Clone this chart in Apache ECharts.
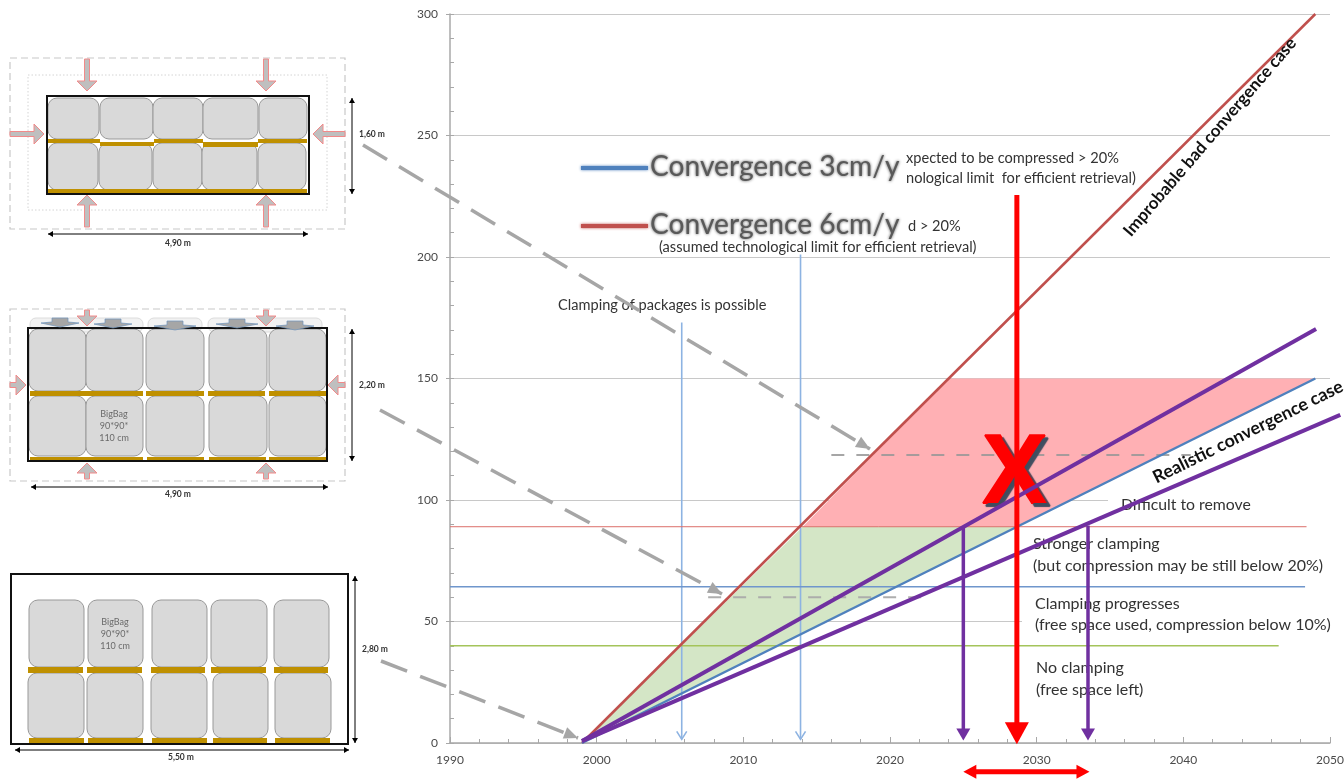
<!DOCTYPE html>
<html>
<head>
<meta charset="utf-8">
<style>html,body{margin:0;padding:0;background:#fff}#c{width:1344px;height:781px}</style>
<script src="https://cdn.jsdelivr.net/npm/echarts@6/dist/echarts.min.js"></script>
</head>
<body>
<div id="c"></div>
<script>
// ---- chart values, in axis units (year, cm) ----
const xTicks = [1990, 2000, 2010, 2020, 2030, 2040, 2050];
const yTicks = [0, 50, 100, 150, 200, 250, 300];
const conv6Years = [1999, 2049];
const conv6Values = [0, 300];
const conv3Years = [1999, 2049];
const conv3Values = [0, 150];
const purpleHighYears = [1999, 2049.05];
const purpleHighValues = [0.8, 170.4];
const purpleLowYears = [1999, 2050.7];
const purpleLowValues = [0.8, 135];
const redLimitYears = [1990, 2048.4];
const redLimitValues = [89, 89];
const blueLimitYears = [1990, 2048.3];
const blueLimitValues = [64.3, 64.3];
const greenLimitYears = [1990, 2046.5];
const greenLimitValues = [40, 40];
const dashUpperYears = [2016, 2040.5];
const dashUpperValues = [118.5, 118.5];
const dashLowerYears = [2007.6, 2022.9];
const dashLowerValues = [60, 60];
const pinkZoneYears = [2014.05, 2024, 2049, 2028.7];
const pinkZoneValues = [89, 150, 150, 89];
const greenZoneYears = [1999, 2014.05, 2028.7];
const greenZoneValues = [0, 89, 89];
const thinBlueArrowYears = [2005.8, 2013.9];
const thinBlueArrowTops = [173, 201];
const thinBlueArrowEnd = 1.5;
const purpleArrowYears = [2025, 2033.5];
const purpleArrowTops = [89, 89.5];
const purpleArrowEnd = 1;
const redArrowYear = 2028.65;
const redArrowTop = 225.5;
const redArrowEnd = -0.5;
const rangeYears = [2025, 2033.6];
const rangeLevel = -11.8;
const legendNames = ['Convergence 3cm/y', 'Convergence 6cm/y'];
const bigBagLabel = ['BigBag', '90*90*', '110 cm'];
const noteClamping = 'Clamping of packages is possible';
const noteRemove = 'Difficult to remove';
const noteStronger = ['Stronger clamping', '(but compression may be still below 20%)'];
const noteProgress = ['Clamping progresses', '(free space used, compression below 10%)'];
const noteNone = ['No clamping', '(free space left)'];
const caseBad = 'Improbable bad convergence case';
const caseReal = 'Realistic convergence case';
const retrievalTop = ['xpected to be compressed > 20%', 'nological limit  for efficient retrieval)'];
const retrievalLow = ['d > 20%', '(assumed technological limit for efficient retrieval)'];

// ---- helpers ----
const FONT = 'Lato, "Open Sans", sans-serif';
const zip = (a, b) => a.map((v, i) => [v, b[i]]);

function lineSeries(name, xs, ys, color, width, z, dash) {
  return {
    type: 'line', name, data: zip(xs, ys), showSymbol: false, symbol: 'none', clip: false, z,
    animation: false, silent: true,
    lineStyle: { color, width, type: dash || 'solid', cap: 'butt' }
  };
}
// a straight run that is allowed to leave the plot area
function overrunSeries(name, xs, ys, color, width, z) {
  return {
    type: 'custom', name, z, clip: false, silent: true, animation: false,
    data: zip(xs, ys),
    renderItem: (p, api) => {
      if (p.dataIndex !== 0) return null;
      return { type: 'polyline', shape: { points: xs.map((x, i) => api.coord([x, ys[i]])) },
        style: { stroke: color, lineWidth: width, fill: null } };
    }
  };
}
function zoneSeries(name, xs, ys, fill) {
  return {
    type: 'custom', name, z: 1, clip: false, silent: true, animation: false,
    data: [0],
    renderItem: (p, api) => ({
      type: 'polygon',
      shape: { points: xs.map((x, i) => api.coord([x, ys[i]])) },
      style: { fill, stroke: null }
    })
  };
}
// vertical arrows in axis units
function vArrowSeries(name, xs, tops, end, color, width, head, z) {
  return {
    type: 'custom', name, z, clip: false, silent: true, animation: false,
    data: xs.map((x, i) => [x, tops[i]]),
    renderItem: (p, api) => {
      const a = api.coord([api.value(0), api.value(1)]);
      const b = api.coord([api.value(0), end]);
      if (head.open) {
        return { type: 'group', children: [
          { type: 'line', shape: { x1: a[0], y1: a[1], x2: b[0], y2: b[1] }, style: { stroke: color, lineWidth: width } },
          { type: 'polyline', shape: { points: [[b[0] - head.w, b[1] - head.l], [b[0], b[1]], [b[0] + head.w, b[1] - head.l]] },
            style: { stroke: color, lineWidth: width, fill: null } }
        ]};
      }
      return { type: 'group', children: [
        { type: 'line', shape: { x1: a[0], y1: a[1], x2: b[0], y2: b[1] - head.l + 1 }, style: { stroke: color, lineWidth: width } },
        { type: 'polygon', shape: { points: [[b[0] - head.w, b[1] - head.l], [b[0] + head.w, b[1] - head.l], [b[0], b[1]]] },
          style: { fill: color } }
      ]};
    }
  };
}
const rangeSeries = {
  type: 'custom', name: 'Range', z: 8, clip: false, silent: true, animation: false, data: [0],
  renderItem: (p, api) => {
    const a = api.coord([rangeYears[0], rangeLevel]);
    const b = api.coord([rangeYears[1], rangeLevel]);
    const y = a[1], hl = 13, hw = 7, sw = 2.5;
    return { type: 'polygon', shape: { points: [
      [a[0], y], [a[0] + hl, y - hw], [a[0] + hl, y - sw], [b[0] - hl, y - sw], [b[0] - hl, y - hw], [b[0], y],
      [b[0] - hl, y + hw], [b[0] - hl, y + sw], [a[0] + hl, y + sw], [a[0] + hl, y + hw]
    ] }, style: { fill: '#ff0000' } };
  }
};

// ---- page-space drawings ----
const g = [];
const Z_BOX = 1;
function txt(x, y, text, size, color, opt) {
  g.push(Object.assign({
    type: 'text', x, y, z: (opt && opt.z) || 1,
    style: Object.assign({ text, font: (opt && opt.weight || 'normal') + ' ' + size + 'px ' + FONT, fill: color,
      align: (opt && opt.align) || 'left', verticalAlign: 'middle' }, (opt && opt.style) || {})
  }, (opt && opt.el) || {}));
}
function box(x, y, w, h, style, r, z) {
  g.push({ type: 'rect', z: z || 30, shape: { x, y, width: w, height: h, r: r || 0 }, style });
}
function bag(x1, y1, x2, y2) {
  box(x1, y1, x2 - x1, y2 - y1, { fill: '#d9d9d9', stroke: '#999999', lineWidth: 1 }, 9);
}
function pallet(x1, y1, x2, y2) {
  box(x1, y1, x2 - x1, y2 - y1, { fill: '#bf9000' });
}
function pressArrow(tipX, tipY, tailX, tailY) {
  const dx = tipX - tailX, dy = tipY - tailY, L = Math.hypot(dx, dy), ux = dx / L, uy = dy / L, nx = -uy, ny = ux;
  const hl = 10, hw = 10, sw = 2.5;
  const P = (a, b) => [tailX + ux * a + nx * b, tailY + uy * a + ny * b];
  g.push({ type: 'polygon', z: 31, shape: { points: [P(0, sw), P(L - hl, sw), P(L - hl, hw), P(L, 0), P(L - hl, -hw), P(L - hl, -sw), P(0, -sw)] },
    style: { fill: '#bfbfbf', stroke: '#f28a8a', lineWidth: 1 } });
}
function dim(x1, y1, x2, y2) {
  const dx = x2 - x1, dy = y2 - y1, L = Math.hypot(dx, dy), ux = dx / L, uy = dy / L, nx = -uy, ny = ux, h = 5, w = 3;
  g.push({ type: 'line', z: 30, shape: { x1, y1, x2, y2 }, style: { stroke: '#000', lineWidth: 1 } });
  g.push({ type: 'polygon', z: 31, shape: { points: [[x1, y1], [x1 + ux * h + nx * w, y1 + uy * h + ny * w], [x1 + ux * h - nx * w, y1 + uy * h - ny * w]] }, style: { fill: '#000' } });
  g.push({ type: 'polygon', z: 31, shape: { points: [[x2, y2], [x2 - ux * h + nx * w, y2 - uy * h + ny * w], [x2 - ux * h - nx * w, y2 - uy * h - ny * w]] }, style: { fill: '#000' } });
}
function dimLabel(x, y, t) {
  txt(x, y, t, 8.5, '#333', { weight: 'bold', align: 'center', z: 32 });
}
function bagLabel(x, ys) {
  bigBagLabel.forEach((t, i) => txt(x, ys[i], t, 9, '#6a6a6a', { align: 'center', z: 32 }));
}

// diagram 1
box(10, 58, 335, 171, { fill: null, stroke: '#c8c8c8', lineWidth: 1.2, lineDash: [7, 4] });
box(28, 75, 299, 135, { fill: null, stroke: '#d4d4d4', lineWidth: 1, lineDash: [1.5, 2] });
[[48, 99], [100, 153], [153, 203], [203, 258], [259, 307]].forEach(r => bag(r[0], 98, r[1], 139));
[[48, 98], [99, 152], [153, 202], [202, 257], [258, 306]].forEach(r => bag(r[0], 143, r[1], 190));
[[48, 100, 139, 143], [100, 154, 142, 146], [154, 203, 139, 143], [203, 258, 142, 147], [258, 307, 139, 143]]
  .forEach(r => pallet(r[0], r[2], r[1], r[3]));
pallet(48, 189, 307, 193);
box(47, 96, 262, 98, { fill: null, stroke: '#111', lineWidth: 2 });
[87, 266].forEach(x => { pressArrow(x, 91, x, 59); pressArrow(x, 195, x, 227); });
pressArrow(44, 134, 10, 134); pressArrow(313, 134, 345, 134);
dim(352, 98, 352, 194); dimLabel(372, 134, '1,60 m');
dim(48, 234, 308, 234); dimLabel(178, 243, '4,90 m');

// diagram 2
box(10, 309, 335, 172, { fill: null, stroke: '#c8c8c8', lineWidth: 1.2, lineDash: [7, 4] });
[[30, 143], [148, 202], [208, 322]].forEach(r => box(r[0], 318, r[1] - r[0], 14, { fill: '#f2f2f2', stroke: '#dcdcdc', lineWidth: 1 }, 6));
const d2 = [[29, 86], [86, 143], [146, 204], [209, 267], [269, 326]];
d2.forEach(r => { bag(r[0], 329, r[1], 391); bag(r[0], 396, r[1], 456); });
[[30, 143], [146, 204], [208, 265], [269, 326]].forEach(r => { pallet(r[0], 391, r[1], 396); });
[[30, 143], [147, 204], [209, 266], [269, 326]].forEach(r => { pallet(r[0], 457, r[1], 461); });
[[60, 318, 19], [113, 319, 19], [175, 321, 21], [237, 319, 21], [295, 321, 19]].forEach(a => {
  g.push({ type: 'polygon', z: 31, shape: { points: [[a[0] - 8, a[1]], [a[0] + 8, a[1]], [a[0] + 8, a[1] + 4], [a[0] + a[2], a[1] + 5], [a[0], a[1] + 9], [a[0] - a[2], a[1] + 5], [a[0] - 8, a[1] + 4]] },
    style: { fill: '#a6a6a6', stroke: '#6f93bb', lineWidth: 0.7 } });
});
box(28, 328, 299, 133, { fill: null, stroke: '#111', lineWidth: 2 });
[87, 266].forEach(x => { pressArrow(x, 326, x, 310); pressArrow(x, 463, x, 479); });
pressArrow(26, 385, 10, 385); pressArrow(328, 385, 345, 385);
bagLabel(114, [414, 426, 438]);
dim(352, 329, 352, 461); dimLabel(372, 385, '2,20 m');
dim(31, 487, 328, 487); dimLabel(178, 494, '4,90 m');

// diagram 3
[[29, 84], [88, 143], [152, 207], [211, 267], [274, 329]].forEach(r => bag(r[0], 600, r[1], 667));
[[28, 84], [87, 143], [151, 207], [213, 268], [275, 331]].forEach(r => bag(r[0], 673, r[1], 738));
[[28, 83], [87, 142], [151, 205], [211, 266], [274, 328]].forEach(r => pallet(r[0], 667, r[1], 673));
[[29, 84], [88, 143], [152, 207], [213, 267], [275, 330]].forEach(r => pallet(r[0], 738, r[1], 744));
box(11, 574, 337, 170, { fill: null, stroke: '#111', lineWidth: 2 });
bagLabel(115, [622, 634, 646]);
dim(355, 576, 355, 743); dimLabel(375, 649, '2,80 m');
dim(15, 750, 349, 750); dimLabel(181, 757, '5,50 m');

// white text boxes that hide the gridlines behind the notes
box(1022, 612, 322, 18, { fill: '#fff' }, 0, Z_BOX);
box(1108, 492, 236, 20, { fill: '#fff' }, 0, Z_BOX);

// notes
const noteInk = '#333333';
txt(558, 305, noteClamping, 14.6, noteInk);
txt(1121, 505, noteRemove, 15.8, noteInk);
txt(1033, 544, noteStronger[0], 16, noteInk);
txt(1033, 566, noteStronger[1], 16, noteInk);
txt(1035, 604, noteProgress[0], 16, noteInk);
txt(1035, 625, noteProgress[1], 16, noteInk);
txt(1036, 668, noteNone[0], 16, noteInk);
txt(1036, 690, noteNone[1], 16, noteInk);
txt(906, 158, retrievalTop[0], 14.6, noteInk);
txt(906, 178, retrievalTop[1], 14.6, noteInk);
txt(908, 226, retrievalLow[0], 14.6, noteInk);
txt(659, 247, retrievalLow[1], 14.6, noteInk);

// legend picture laid over the notes
box(578, 140, 327, 99, { fill: '#fff' }, 0, 3);
box(905, 210, 3, 29, { fill: '#fff' }, 0, 3);
g.push({ type: 'line', z: 4, shape: { x1: 581, y1: 168, x2: 648, y2: 168 }, style: { stroke: '#4f81bd', lineWidth: 4, shadowBlur: 3, shadowColor: '#4f81bd' } });
g.push({ type: 'line', z: 4, shape: { x1: 581, y1: 226, x2: 648, y2: 226 }, style: { stroke: '#c0504d', lineWidth: 4, shadowBlur: 3, shadowColor: '#c0504d' } });
legendNames.forEach((t, i) => txt(650, i ? 225 : 167, t, 28.2, '#595959', {
  z: 4, style: { textShadowBlur: 3, textShadowColor: '#555' }
}));

// rotated case labels
txt(1210, 137, caseBad, 17, '#111', { weight: 'bold', align: 'center', z: 6, el: { rotation: 49.4 * Math.PI / 180 } });
txt(1248, 432, caseReal, 17.8, '#111', { weight: 'bold', align: 'center', z: 6, el: { rotation: 26.3 * Math.PI / 180 } });

// big X
txt(1015, 476, 'X', 98, '#ff0000', {
  weight: 'bold', align: 'center', z: 7,
  style: { font: 'bold 98px "Liberation Sans", sans-serif', stroke: '#ff0000', lineWidth: 2, textShadowColor: '#3f4d5f', textShadowBlur: 1, textShadowOffsetX: 3, textShadowOffsetY: 3 }
});

// dashed callout arrows from diagrams to chart
function callout(x1, y1, x2, y2) {
  g.push({ type: 'line', z: 7, shape: { x1, y1, x2, y2 }, style: { stroke: '#a6a6a6', lineWidth: 3.5, lineDash: [28, 14] } });
  const L = Math.hypot(x2 - x1, y2 - y1), ux = (x2 - x1) / L, uy = (y2 - y1) / L;
  g.push({ type: 'polygon', z: 7, shape: { points: [[x2, y2], [x2 - ux * 14 - uy * 6, y2 - uy * 14 + ux * 6], [x2 - ux * 14 + uy * 6, y2 - uy * 14 - ux * 6]] }, style: { fill: '#a6a6a6' } });
}
callout(363, 145, 870, 449);
callout(380, 410, 722, 594);
callout(381, 661, 578, 738);

// ---- chart ----
const chart = echarts.init(document.getElementById('c'), null, { renderer: 'canvas' });
const axisGrey = '#a8a8a8';
chart.setOption({
  animation: false,
  backgroundColor: '#fff',
  grid: { left: 450, top: 14, width: 880, height: 729, containLabel: false, outerBoundsMode: 'none' },
  xAxis: {
    type: 'value', min: xTicks[0], max: xTicks[xTicks.length - 1], interval: 10,
    axisLine: { onZero: false, lineStyle: { color: axisGrey, width: 1.5 } },
    axisTick: { show: true, inside: true, length: 6, lineStyle: { color: axisGrey } },
    minorTick: { show: true, splitNumber: 5, length: 4, lineStyle: { color: axisGrey } },
    splitLine: { show: false },
    axisLabel: { color: '#4a4a4a', fontSize: 12, fontFamily: FONT, margin: 11, formatter: v => String(v) }
  },
  yAxis: [{
    type: 'value', min: yTicks[0], max: yTicks[yTicks.length - 1], interval: 50,
    axisLine: { show: true, lineStyle: { color: axisGrey, width: 1.5 } },
    axisTick: { show: true, inside: true, length: 4, lineStyle: { color: axisGrey } },
    minorTick: { show: true, splitNumber: 5, length: 4, lineStyle: { color: axisGrey } },
    splitLine: { show: true, lineStyle: { color: '#c8c8c8', width: 1 } },
    axisLabel: { color: '#4a4a4a', fontSize: 12, fontFamily: FONT, margin: 12 }
  }, {
    type: 'value', min: yTicks[0], max: yTicks[yTicks.length - 1], interval: 50, position: 'left',
    axisLine: { show: false }, axisLabel: { show: false }, splitLine: { show: false },
    axisTick: { show: true, inside: false, length: 4, lineStyle: { color: axisGrey } }
  }],
  graphic: { elements: g },
  series: [
    zoneSeries('6 cm zone', pinkZoneYears, pinkZoneValues, '#ffb0b4'),
    zoneSeries('Clamping zone', greenZoneYears, greenZoneValues, '#d4e6c6'),
    lineSeries('Red limit', redLimitYears, redLimitValues, '#dc6f6a', 1, 2),
    lineSeries('Blue limit', blueLimitYears, blueLimitValues, '#6f96cc', 1.5, 2),
    lineSeries('Green limit', greenLimitYears, greenLimitValues, '#a4c45a', 1.5, 2),
    lineSeries('Dash upper', dashUpperYears, dashUpperValues, 'rgba(150,150,150,0.85)', 2, 2, [13, 12]),
    lineSeries('Dash lower', dashLowerYears, dashLowerValues, 'rgba(170,170,170,0.95)', 2, 2, [13, 12]),
    vArrowSeries('Thin arrows', thinBlueArrowYears, thinBlueArrowTops, thinBlueArrowEnd, '#8db3e2', 1.6, { open: true, w: 5, l: 8 }, 2),
    lineSeries('Convergence 6cm/y', conv6Years, conv6Values, '#c0504d', 2.5, 3),
    lineSeries('Convergence 3cm/y', conv3Years, conv3Values, '#4f81bd', 2.5, 3),
    overrunSeries('Purple high', purpleHighYears, purpleHighValues, '#7030a0', 4, 10),
    overrunSeries('Purple low', purpleLowYears, purpleLowValues, '#7030a0', 4, 10),
    vArrowSeries('Purple arrows', purpleArrowYears, purpleArrowTops, purpleArrowEnd, '#7030a0', 3.5, { w: 7, l: 12 }, 10),
    vArrowSeries('Red arrow', [redArrowYear], [redArrowTop], redArrowEnd, '#ff0000', 5, { w: 12, l: 22 }, 11),
    rangeSeries
  ]
});
</script>
</body>
</html>
